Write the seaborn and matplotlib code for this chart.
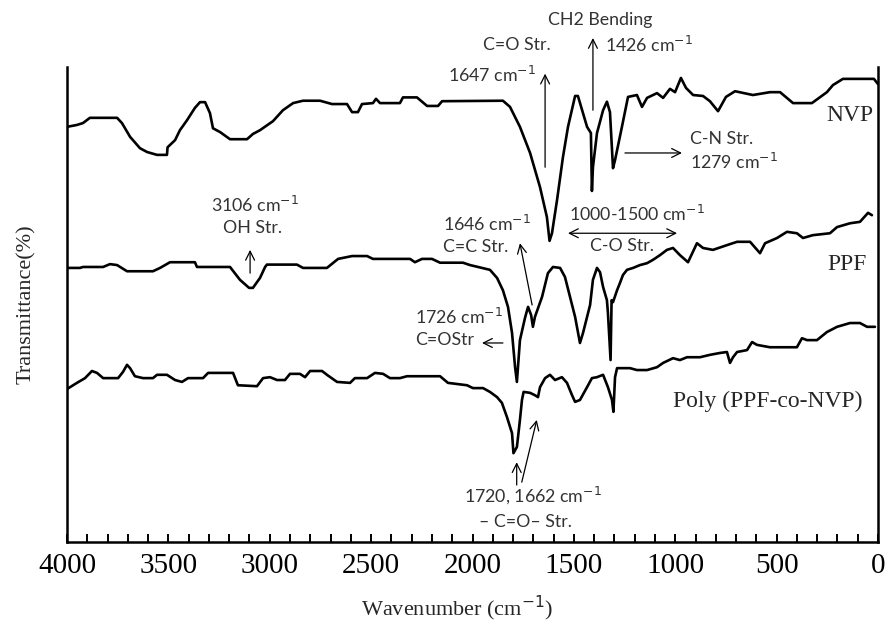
import numpy as np
import pandas as pd
import matplotlib
matplotlib.use("Agg")
import matplotlib.pyplot as plt
import seaborn as sns

# ---------------- data ----------------
nvp_wn = [4000, 3951, 3921, 3887, 3753, 3729, 3689, 3640, 3605, 3556, 3507, 3504, 3467, 3443,
          3408, 3369, 3344, 3319, 3295, 3280, 3245, 3196, 3112, 3083, 3048, 2984, 2935, 2885,
          2836, 2752, 2693, 2619, 2594, 2565, 2545, 2491, 2476, 2456, 2358, 2343, 2274, 2224,
          2170, 2150, 1850, 1815, 1766, 1716, 1667, 1633, 1620, 1608, 1583, 1554, 1529, 1494,
          1480, 1435, 1416, 1411, 1406, 1386, 1356, 1337, 1322, 1307, 1297, 1263, 1233, 1189,
          1164, 1139, 1090, 1060, 1026, 1001, 972, 947, 912, 863, 829, 789, 750, 705, 617, 533,
          483, 419, 326, 252, 222, 173, 20, 0]
nvp_t = [87.4, 87.8, 88.2, 89.3, 89.3, 88.2, 85.3, 82.9, 82.1, 81.5, 81.5, 83.1, 84.6, 86.7,
         88.8, 91.4, 92.6, 92.6, 90.3, 87.1, 86.3, 84.8, 84.8, 85.9, 86.7, 88.6, 90.9, 92.4,
         92.9, 92.9, 92.2, 92.2, 90.5, 90.5, 92.2, 92.4, 93.3, 92.4, 92.4, 93.6, 93.6, 91.8,
         91.8, 92.8, 92.9, 91.6, 87.4, 81.9, 74.7, 68.4, 63.4, 65.0, 72.0, 81.0, 87.4, 93.9,
         93.9, 87.4, 86.1, 73.9, 78.9, 86.1, 90.9, 92.7, 90.5, 78.7, 80.4, 87.4, 93.7, 94.1,
         91.6, 93.5, 94.5, 93.5, 95.4, 94.7, 97.7, 95.6, 94.1, 93.9, 92.8, 90.7, 93.7, 94.9,
         94.1, 94.7, 94.7, 92.4, 92.4, 94.7, 96.2, 97.5, 97.5, 96.4]

ppf_wn = [4000, 3936, 3921, 3822, 3788, 3753, 3704, 3576, 3541, 3492, 3369, 3359, 3196, 3147,
          3102, 3083, 3048, 3023, 3014, 2866, 2836, 2718, 2663, 2594, 2520, 2491, 2308, 2284,
          2249, 2200, 2160, 2047, 2012, 1914, 1879, 1850, 1825, 1805, 1790, 1781, 1766, 1741,
          1726, 1711, 1702, 1692, 1657, 1628, 1603, 1568, 1544, 1519, 1494, 1470, 1455, 1420,
          1406, 1386, 1371, 1356, 1337, 1332, 1319, 1314, 1307, 1287, 1273, 1258, 1238, 1208,
          1174, 1139, 1110, 1075, 1041, 1011, 977, 937, 893, 863, 814, 745, 695, 631, 582, 557,
          498, 449, 400, 370, 321, 237, 202, 138, 89, 49, 30]
ppf_t = [57.7, 57.7, 57.9, 57.9, 58.5, 58.3, 57.0, 57.0, 57.7, 58.9, 58.9, 57.9, 57.9, 55.2,
         53.5, 53.5, 55.6, 57.9, 58.4, 58.4, 57.7, 57.7, 59.6, 60.2, 60.2, 59.6, 59.6, 58.9,
         59.6, 59.6, 58.8, 58.8, 58.3, 57.3, 55.6, 53.0, 49.5, 44.0, 36.8, 33.7, 42.5, 47.2,
         49.5, 47.8, 45.3, 47.4, 51.6, 56.6, 57.9, 57.7, 55.8, 51.6, 47.4, 41.9, 44.0, 49.9,
         55.2, 57.7, 56.8, 53.7, 50.9, 48.2, 38.3, 50.9, 50.5, 53.0, 54.5, 56.2, 57.3, 57.7,
         58.3, 58.7, 59.4, 60.4, 61.5, 61.9, 60.4, 58.9, 62.9, 61.9, 61.5, 62.5, 63.2, 63.2,
         60.8, 62.9, 64.0, 65.3, 65.0, 64.0, 64.6, 65.0, 66.3, 67.1, 67.4, 69.3, 68.8]

poly_wn = [4000, 3951, 3911, 3877, 3852, 3822, 3748, 3724, 3704, 3689, 3665, 3625, 3576, 3556,
           3507, 3467, 3433, 3403, 3329, 3304, 3181, 3157, 3063, 3033, 2999, 2964, 2925, 2900,
           2851, 2826, 2801, 2742, 2718, 2668, 2604, 2580, 2520, 2481, 2441, 2407, 2358, 2323,
           2160, 2121, 2027, 1998, 1948, 1914, 1879, 1855, 1830, 1805, 1798, 1781, 1766, 1756,
           1748, 1716, 1692, 1677, 1667, 1642, 1618, 1593, 1559, 1534, 1509, 1494, 1470, 1435,
           1411, 1386, 1356, 1332, 1312, 1305, 1297, 1287, 1223, 1189, 1139, 1090, 1060, 1011,
           977, 942, 878, 829, 779, 745, 730, 715, 695, 646, 621, 597, 533, 400, 375, 350, 301,
           252, 202, 138, 89, 54, 15]
poly_t = [32.2, 33.5, 34.5, 36.0, 35.6, 34.5, 34.5, 35.8, 37.3, 36.6, 34.9, 34.5, 34.5, 35.2,
          35.2, 34.1, 33.7, 34.5, 34.5, 35.6, 35.6, 33.0, 32.8, 34.5, 34.7, 34.1, 34.1, 35.4,
          35.4, 34.7, 36.0, 36.0, 35.2, 33.7, 33.5, 34.5, 34.5, 35.6, 35.4, 34.5, 34.5, 34.9,
          34.9, 33.5, 33.0, 32.4, 32.4, 31.6, 30.5, 29.3, 26.3, 22.9, 18.7, 20.0, 25.7, 29.9,
          31.6, 31.4, 30.9, 30.5, 32.6, 34.5, 35.2, 34.1, 34.7, 33.5, 30.9, 29.5, 29.9, 32.6,
          34.5, 34.7, 35.2, 32.6, 29.9, 27.4, 34.7, 36.6, 36.6, 36.2, 36.2, 36.8, 37.7, 38.7,
          38.3, 38.9, 38.9, 39.4, 39.8, 40.0, 37.7, 38.9, 40.0, 40.4, 42.1, 41.5, 41.0, 41.0,
          42.9, 42.5, 42.5, 44.2, 45.3, 46.1, 46.1, 45.3, 45.3]

series_names = ["NVP", "PPF", "Poly (PPF-co-NVP)"]
x_ticks = [4000, 3500, 3000, 2500, 2000, 1500, 1000, 500, 0]

# ---------------- styling ----------------
sns.set_style("ticks")
SERIF = ["Liberation Serif", "DejaVu Serif"]
SANS = ["Lato", "DejaVu Sans"]
plt.rcParams["font.family"] = SERIF

df = pd.concat([
    pd.DataFrame({"wn": nvp_wn, "T": nvp_t, "s": series_names[0]}),
    pd.DataFrame({"wn": ppf_wn, "T": ppf_t, "s": series_names[1]}),
    pd.DataFrame({"wn": poly_wn, "T": poly_t, "s": series_names[2]}),
])

fig = plt.figure(figsize=(8.9, 6.39), dpi=100)
ax = fig.add_axes([67 / 890, 1 - 542 / 639, (878 - 67) / 890, (542 - 67) / 639])

sns.lineplot(data=df, x="wn", y="T", units="s", estimator=None, sort=False,
             color="black", linewidth=1.9, ax=ax, legend=False)

ax.set_xlim(4000, 0)
ax.set_ylim(0, 100)
ax.set_xticks(x_ticks)
ax.set_xticks(np.arange(0, 4001, 100), minor=True)
ax.set_yticks([])
ax.tick_params(axis="x", which="both", direction="in", length=6, width=1.4,
               labelsize=21, pad=8, colors="black")
ax.spines["top"].set_visible(False)
for sp in ["left", "bottom", "right"]:
    ax.spines[sp].set_linewidth(1.8)
    ax.spines[sp].set_color("black")

ax.set_xlabel("Wavenumber (cm$^{-1}$)", fontsize=16, family=SERIF)
ax.xaxis.set_label_coords(0.481, -0.108)
ax.set_ylabel("Transmittance(%)", fontsize=16, labelpad=22, family=SERIF)

# curve labels
ax.text(138, 89.7, "NVP", fontsize=17, ha="center", va="center", family=SERIF)
ax.text(153, 58.5, "PPF", fontsize=17, ha="center", va="center", family=SERIF)
ax.text(543, 29.5, "Poly (PPF-co-NVP)", fontsize=17, ha="center", va="center", family=SERIF)

# annotations
tc = "#333333"
fs = 12.8
def txt(x, y, s, ha="center"):
    ax.text(x, y, s, fontsize=fs, ha=ha, va="center", color=tc, family=SANS, clip_on=False)

def arr(x0, y0, x1, y1, style="->"):
    ax.annotate("", xy=(x1, y1), xytext=(x0, y0), annotation_clip=False,
                arrowprops=dict(arrowstyle=style, color="black", lw=0.9,
                                shrinkA=0, shrinkB=0, mutation_scale=16))

cm = "cm$^{-1}$"
txt(1371, 109.9, "CH2 Bending")
txt(1780, 104.6, "C=O Str.")
txt(1346, 104.6, "1426 " + cm, ha="left")
arr(1406, 90.9, 1406, 106.1)
txt(1904, 98.3, "1647 " + cm)
arr(1642, 78.9, 1642, 98.6)
txt(927, 84.8, "C-N Str.", ha="left")
txt(927, 80.0, "1279 " + cm, ha="left")
arr(1248, 81.9, 967, 81.9)
txt(1189, 69.0, "1000-1500 " + cm)
arr(1529, 65.0, 991, 65.0, style="<->")
txt(1263, 62.3, "C-O Str.")
txt(2145, 66.9, "1646 " + cm, ha="left")
txt(2145, 62.1, "C=C Str.", ha="left")
arr(1706, 49.9, 1766, 62.9)
txt(2284, 47.4, "1726 " + cm, ha="left")
txt(2284, 42.5, "C=OStr", ha="left")
arr(1850, 41.9, 1953, 41.9)
txt(3073, 70.9, "3106 " + cm)
txt(3083, 66.1, "OH Str.")
arr(3097, 56.6, 3097, 61.5)
arr(1782, 12.0, 1782, 16.8)
arr(1757, 12.6, 1683, 25.7)
txt(1702, 9.9, "1720, 1662 " + cm)
txt(1741, 4.2, "\u2013 C=O\u2013 Str.")

fig.savefig("out.png", dpi=100)
